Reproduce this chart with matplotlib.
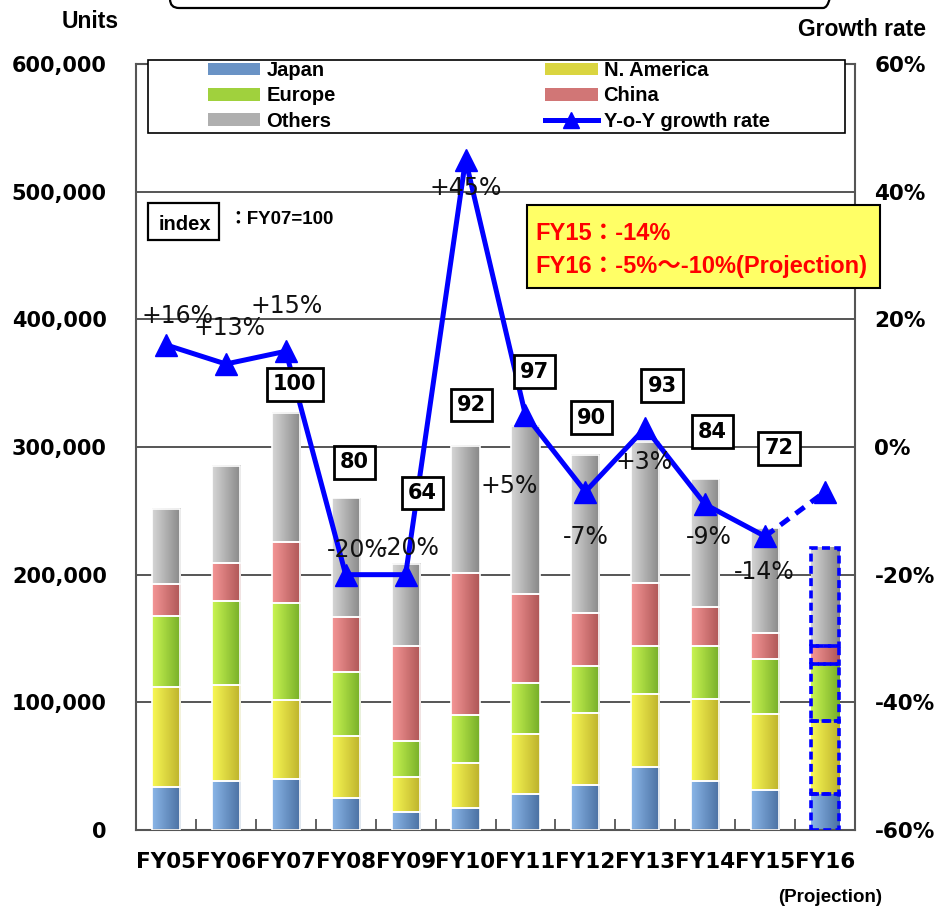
import numpy as np
import matplotlib
matplotlib.use('Agg')
import matplotlib.pyplot as plt
from matplotlib.colors import LinearSegmentedColormap
from matplotlib.patches import Rectangle, FancyBboxPatch, Patch
from matplotlib.lines import Line2D
from matplotlib.ticker import FuncFormatter

# unit sales by region, thousands of units
years = ['FY05', 'FY06', 'FY07', 'FY08', 'FY09', 'FY10',
         'FY11', 'FY12', 'FY13', 'FY14', 'FY15', 'FY16']
japan = [34.0, 38.0, 40.0, 25.0, 14.0, 17.5, 28.0, 35.0, 49.0, 38.6, 31.3, 28.0]
n_america = [78.3, 75.2, 61.6, 48.8, 27.7, 35.2, 47.0, 56.5, 57.3, 63.8, 59.5, 57.3]
europe = [55.4, 65.8, 76.2, 49.9, 27.9, 37.3, 40.0, 37.2, 38.0, 41.9, 43.4, 44.7]
china = [25.0, 30.0, 47.5, 43.3, 74.3, 111.0, 69.6, 41.1, 49.2, 30.5, 20.0, 14.0]
others = [58.8, 76.2, 101.3, 93.2, 64.5, 99.7, 132.0, 123.9, 110.5, 99.8, 82.1, 76.9]

# year-on-year growth (%), last point is the projection
growth = [16, 13, 15, -20, -20, 45, 5, -7, 3, -9, -14, -7]

# index, FY07 = 100
index_years = ['FY07', 'FY08', 'FY09', 'FY10', 'FY11', 'FY12', 'FY13', 'FY14', 'FY15']
index_vals = [100, 80, 64, 92, 97, 90, 93, 84, 72]

# label placement
growth_offsets = [(12, 29), (4, 36), (1, 45), (12, 25), (4, 27), (0, -28),
                  (-16, -71), (0, -45), (-1, -34), (4, -33), (-1, -36)]
index_pos = [(2.15, 349e3), (3.15, 288e3), (4.28, 264e3), (5.10, 333e3),
             (6.15, 359e3), (7.10, 323e3), (8.28, 348e3), (9.12, 312e3),
             (10.23, 299e3)]

ARIAL = ['Liberation Sans', 'Noto Sans CJK JP']
VERD = 'DejaVu Sans'
BLUE = '#0000FF'
GRID = '#555555'

fig = plt.figure(figsize=(9.42, 9.09), dpi=100)
ax = fig.add_axes([136 / 942, 1 - 830 / 909, 719 / 942, 766 / 909])

regions = [
    ('Japan', japan, ('#8AB6E8', '#4A70A2')),
    ('N. America', n_america, ('#F8F854', '#BDB22C')),
    ('Europe', europe, ('#CAF552', '#76AE28')),
    ('China', china, ('#F59696', '#AE5656')),
    ('Others', others, ('#D6D6D6', '#888888')),
]

n = len(years)
x = np.arange(n)
width = 0.47
grad = np.linspace(0, 1, 64).reshape(1, -1)
bottom = np.zeros(n)
legend_handles = {}
for name, vals, (c0, c1) in regions:
    vals = np.array(vals) * 1000
    cmap = LinearSegmentedColormap.from_list(name, [c0, c1])
    bars = ax.bar(x, vals, width, bottom=bottom, facecolor='none',
                  edgecolor='white', lw=1.2, zorder=3)
    for b in bars:
        x0, y0 = b.get_x(), b.get_y()
        ax.imshow(grad, cmap=cmap, aspect='auto', interpolation='bilinear',
                  extent=[x0, x0 + b.get_width(), y0, y0 + b.get_height()], zorder=2)
    # projection bar gets a dashed outline
    bars[-1].set_edgecolor(BLUE)
    bars[-1].set_linestyle((0, (2.2, 1.2)))
    bars[-1].set_linewidth(2.6)
    bars[-1].set_zorder(4)
    legend_handles[name] = Patch(facecolor=cmap(0.5), edgecolor='none')
    bottom += vals

ax.set_xlim(-0.5, n - 0.5)
ax.set_ylim(0, 600000)
ax.set_yticks(np.arange(0, 600001, 100000))
ax.yaxis.set_major_formatter(FuncFormatter(lambda v, p: f'{v:,.0f}'))
ax.yaxis.grid(True, color=GRID, lw=1.4, zorder=0.5)
ax.set_axisbelow(True)
ax.set_xticks(x)
ax.set_xticklabels(years)
ax.set_xticks(np.arange(0.5, n - 1, 1), minor=True)
ax.tick_params(axis='x', which='major', length=0, pad=16)
ax.tick_params(axis='x', which='minor', direction='in', length=8, width=1.3, color=GRID)
ax.tick_params(axis='y', length=0, pad=21)
for lab in ax.get_yticklabels():
    lab.set_fontfamily(VERD); lab.set_fontweight('bold'); lab.set_fontsize(15)
for lab in ax.get_xticklabels():
    lab.set_fontfamily(VERD); lab.set_fontweight('bold'); lab.set_fontsize(15.5)
for s in ax.spines.values():
    s.set_color(GRID); s.set_linewidth(1.5)

# growth rate on the right axis
ax2 = ax.twinx()
ax2.set_ylim(-60, 60)
ax2.set_yticks(np.arange(-60, 61, 20))
ax2.set_yticklabels([f'{v}%' for v in range(-60, 61, 20)])
ax2.tick_params(axis='y', length=0, pad=14)
for lab in ax2.get_yticklabels():
    lab.set_fontfamily(VERD); lab.set_fontweight('bold'); lab.set_fontsize(15.5)
for s in ax2.spines.values():
    s.set_visible(False)

ax2.plot(x[:-1], growth[:-1], color=BLUE, lw=3.6, marker='^', ms=16, zorder=5)
ax2.plot(x[-2:], growth[-2:], color=BLUE, lw=3.6, ls=(0, (2.2, 1.6)),
         marker='^', ms=16, markevery=[1], zorder=5)

for i, (g, (dx, dy)) in enumerate(zip(growth[:-1], growth_offsets)):
    ax2.annotate(f'{g:+d}%', xy=(i, g), xytext=(dx, dy), textcoords='offset pixels',
                 ha='center', va='center', fontsize=17, family=VERD,
                 color='#111111', zorder=7)

for val, (px, py) in zip(index_vals, index_pos):
    ax2.text(px, py, str(val), transform=ax.transData, ha='center', va='center',
             fontsize=15, fontweight='bold', family=VERD, zorder=8,
             bbox=dict(boxstyle='square,pad=0.3', fc='white', ec='black', lw=2))

# page furniture in pixel coordinates
ov = fig.add_axes([0, 0, 1, 1], zorder=10)
ov.set_xlim(0, 942)
ov.set_ylim(909, 0)
ov.axis('off')
ov.patch.set_visible(False)

ov.add_patch(FancyBboxPatch((170, -40), 662, 48, boxstyle='round,pad=0,rounding_size=9',
                            fc='none', ec='black', lw=1.6))

ov.add_patch(Rectangle((148, 60), 697, 73, fc='white', ec='black', lw=1.2))
handles = [legend_handles['Japan'], legend_handles['Europe'], legend_handles['Others'],
           legend_handles['N. America'], legend_handles['China'],
           Line2D([], [], color=BLUE, lw=3.6, marker='^', ms=12)]
labels = ['Japan', 'Europe', 'Others', 'N. America', 'China', 'Y-o-Y growth rate']
ov.legend(handles, labels, loc='upper left', bbox_to_anchor=(208 / 942, 1 - 61 / 909),
          bbox_transform=fig.transFigure, ncol=2, frameon=False,
          prop=dict(family=ARIAL, weight='bold', size=14.5), handlelength=2.6,
          handleheight=0.6, handletextpad=0.3, labelspacing=0.32,
          columnspacing=10.4, borderpad=0, borderaxespad=0)

ov.text(90, 22, 'Units', ha='center', va='center', family=ARIAL,
        fontweight='bold', fontsize=16.5)
ov.text(862, 30, 'Growth rate', ha='center', va='center', family=ARIAL,
        fontweight='bold', fontsize=16.5)
ov.text(830, 897, '(Projection)', ha='center', va='center', family=ARIAL,
        fontweight='bold', fontsize=13.5)

ov.add_patch(Rectangle((148, 203), 71, 37, fc='white', ec='black', lw=1.6))
ov.text(185, 225, 'index', ha='center', va='center', family=ARIAL,
        fontweight='bold', fontsize=14.5)
ov.text(228, 219, '：FY07=100', ha='left', va='center', family=ARIAL,
        fontweight='bold', fontsize=13.5)

ov.add_patch(Rectangle((527, 205), 353, 83, fc='#FFFF66', ec='black', lw=1.5))
ov.text(535, 233, 'FY15：-14%', ha='left', va='center', family=ARIAL,
        fontweight='bold', fontsize=17, color='#FF0000')
ov.text(535, 266, 'FY16：-5%～-10%(Projection)', ha='left', va='center', family=ARIAL,
        fontweight='bold', fontsize=17, color='#FF0000')

fig.savefig('out.png', dpi=100)
